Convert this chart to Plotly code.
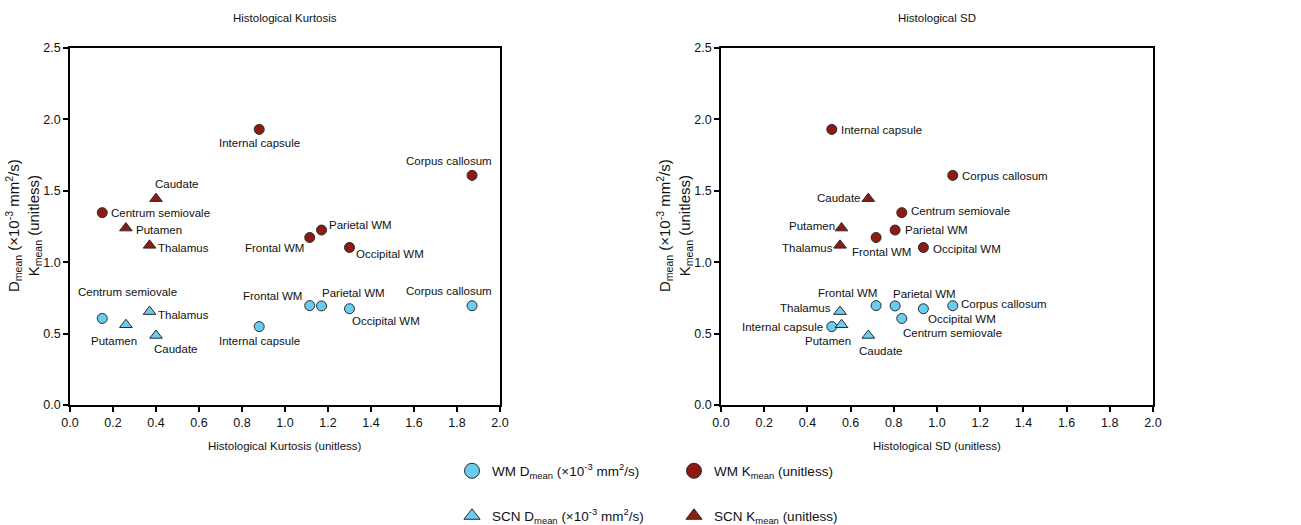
import plotly.graph_objects as go

# ---------------- data ----------------
wm_regions = ["Internal capsule", "Corpus callosum", "Centrum semiovale",
              "Frontal WM", "Parietal WM", "Occipital WM"]
scn_regions = ["Caudate", "Putamen", "Thalamus"]

# x values
kurt_wm = [0.88, 1.87, 0.15, 1.115, 1.17, 1.30]
kurt_scn = [0.40, 0.26, 0.37]
sd_wm = [0.513, 1.073, 0.837, 0.718, 0.806, 0.937]
sd_scn = [0.682, 0.558, 0.551]

# y values
wm_dmean = [0.549, 0.695, 0.606, 0.696, 0.694, 0.674]
wm_kmean = [1.93, 1.608, 1.347, 1.173, 1.225, 1.103]
scn_dmean = [0.487, 0.562, 0.654]
scn_kmean = [1.445, 1.239, 1.118]

x_ticks = [0.0, 0.2, 0.4, 0.6, 0.8, 1.0, 1.2, 1.4, 1.6, 1.8, 2.0]
y_ticks = [0.0, 0.5, 1.0, 1.5, 2.0, 2.5]

# label placement (pixels: dx right, dy down, anchor)
lab_left = {
    "wmK": [(0, 14, "center"), (-23, -14, "center"), (7, 0, "left"),
            (-4, 10, "right"), (5, -5, "left"), (4, 7, "left")],
    "scnK": [(-3, -15, "left"), (8, 2, "left"), (6, 3, "left")],
    "wmD": [(0, 14, "center"), (-23, -15, "center"), (-26, -26, "left"),
            (-6, -10, "right"), (-2, -13, "left"), (0, 12, "left")],
    "scnD": [(-4, 14, "left"), (-12, 16, "center"), (6, 3, "left")],
}
lab_right = {
    "wmK": [(7, 1, "left"), (7, 1, "left"), (7, -2, "left"),
            (5, 14, "center"), (8, 0, "left"), (8, 2, "left")],
    "scnK": [(-6, -1, "right"), (-5, -2, "right"), (-5, 3, "right")],
    "wmD": [(-7, 0, "right"), (6, -2, "left"), (-1, 15, "left"),
            (3, -13, "right"), (-4, -12, "left"), (3, 10, "left")],
    "scnD": [(-11, 16, "left"), (11, 16, "right"), (-7, -4, "right")],
}

# ---------------- style ----------------
W, H = 1301, 525
FONT = "Liberation Sans, Arial, sans-serif"
BLUE = "#6ACDF0"
RED = "#8E1A14"
EDGE = "#2a2a2a"
TXT = "#111111"


def px(xp):
    return xp / W


def py(yp):
    return 1 - yp / H


fig = go.Figure()

series = [
    ("wmD", "WM D<sub>mean</sub> (×10<sup>-3</sup> mm<sup>2</sup>/s)", wm_regions, wm_dmean, "circle", BLUE, "legend"),
    ("wmK", "WM K<sub>mean</sub> (unitless)", wm_regions, wm_kmean, "circle", RED, "legend"),
    ("scnD", "SCN D<sub>mean</sub> (×10<sup>-3</sup> mm<sup>2</sup>/s)", scn_regions, scn_dmean, "triangle-up", BLUE, "legend2"),
    ("scnK", "SCN K<sub>mean</sub> (unitless)", scn_regions, scn_kmean, "triangle-up", RED, "legend2"),
]

panels = [
    ("x", "y", {"wm": kurt_wm, "scn": kurt_scn}, lab_left),
    ("x2", "y2", {"wm": sd_wm, "scn": sd_scn}, lab_right),
]

annotations = []
for xa, ya, xs, labs in panels:
    for key, name, regions, yvals, sym, col, leg in series:
        xv = xs["wm"] if key.startswith("wm") else xs["scn"]
        fig.add_trace(go.Scatter(
            x=xv, y=yvals, mode="markers", name=name,
            xaxis=xa, yaxis=ya, showlegend=False,
            marker=dict(symbol=sym, size=10 if sym == "circle" else 11,
                        color=col, line=dict(color=EDGE, width=1)),
            hoverinfo="skip",
        ))
        for (xx, yy, r, (dx, dy, anc)) in zip(xv, yvals, regions, labs[key]):
            annotations.append(dict(
                x=xx, y=yy, xref=xa, yref=ya, text=r, showarrow=False,
                xshift=dx, yshift=-dy, xanchor=anc, yanchor="middle",
                font=dict(family=FONT, size=11.5, color=TXT),
            ))

# legend entries (larger symbols, no data)
for key, name, regions, yvals, sym, col, leg in series:
    fig.add_trace(go.Scatter(
        x=[None], y=[None], mode="markers", name=name, legend=leg,
        marker=dict(symbol=sym, size=15 if sym == "circle" else 14,
                    color=col, line=dict(color=EDGE, width=1)),
    ))

# titles
for cx, t in [(285, "Histological Kurtosis"), (937, "Histological SD")]:
    annotations.append(dict(x=px(cx), y=py(18), xref="paper", yref="paper",
                            text=t, showarrow=False, xanchor="center", yanchor="middle",
                            font=dict(family=FONT, size=11.5, color=TXT)))
for cx, t in [(285, "Histological Kurtosis (unitless)"), (937, "Histological SD (unitless)")]:
    annotations.append(dict(x=px(cx), y=py(446), xref="paper", yref="paper",
                            text=t, showarrow=False, xanchor="center", yanchor="middle",
                            font=dict(family=FONT, size=11.5, color=TXT)))
ytitle = "D<sub>mean</sub> (×10<sup>-3</sup> mm<sup>2</sup>/s)<br>K<sub>mean</sub> (unitless)"
for cx in [23, 674]:
    annotations.append(dict(x=px(cx), y=py(226), xref="paper", yref="paper",
                            text=ytitle, showarrow=False, textangle=-90,
                            xanchor="center", yanchor="middle",
                            font=dict(family=FONT, size=15, color=TXT)))

ax_common = dict(showgrid=False, zeroline=False, showline=True, mirror=True,
                 linecolor="black", linewidth=1.5, ticks="outside", ticklen=5,
                 tickwidth=1.5, tickcolor="black", automargin=False,
                 tickfont=dict(family=FONT, size=12.5, color=TXT))

ydom = [py(405), py(48)]
fig.update_layout(
    width=W, height=H, margin=dict(l=0, r=0, t=0, b=0, autoexpand=False),
    paper_bgcolor="white", plot_bgcolor="white",
    xaxis=dict(domain=[px(70), px(500)], range=[0, 2.0], tickvals=x_ticks,
               ticktext=[f"{v:.1f}" for v in x_ticks], anchor="y", **ax_common),
    yaxis=dict(domain=ydom, range=[0, 2.5], tickvals=y_ticks,
               ticktext=[f"{v:.1f}" for v in y_ticks], anchor="x", **ax_common),
    xaxis2=dict(domain=[px(721), px(1153)], range=[0, 2.0], tickvals=x_ticks,
                ticktext=[f"{v:.1f}" for v in x_ticks], anchor="y2", **ax_common),
    yaxis2=dict(domain=ydom, range=[0, 2.5], tickvals=y_ticks,
                ticktext=[f"{v:.1f}" for v in y_ticks], anchor="x2", **ax_common),
    legend=dict(orientation="h", x=px(452), y=py(471), xanchor="left", yanchor="middle",
                entrywidth=177, entrywidthmode="pixels",
                font=dict(family=FONT, size=13.5, color=TXT), bgcolor="rgba(0,0,0,0)"),
    legend2=dict(orientation="h", x=px(452), y=py(516), xanchor="left", yanchor="middle",
                 entrywidth=177, entrywidthmode="pixels",
                 font=dict(family=FONT, size=13.5, color=TXT), bgcolor="rgba(0,0,0,0)"),
    annotations=annotations,
    showlegend=True,
)

fig.write_html("out.html", config={"displayModeBar": False},
               post_script="document.body.style.margin='0';document.body.style.overflow='hidden';")
